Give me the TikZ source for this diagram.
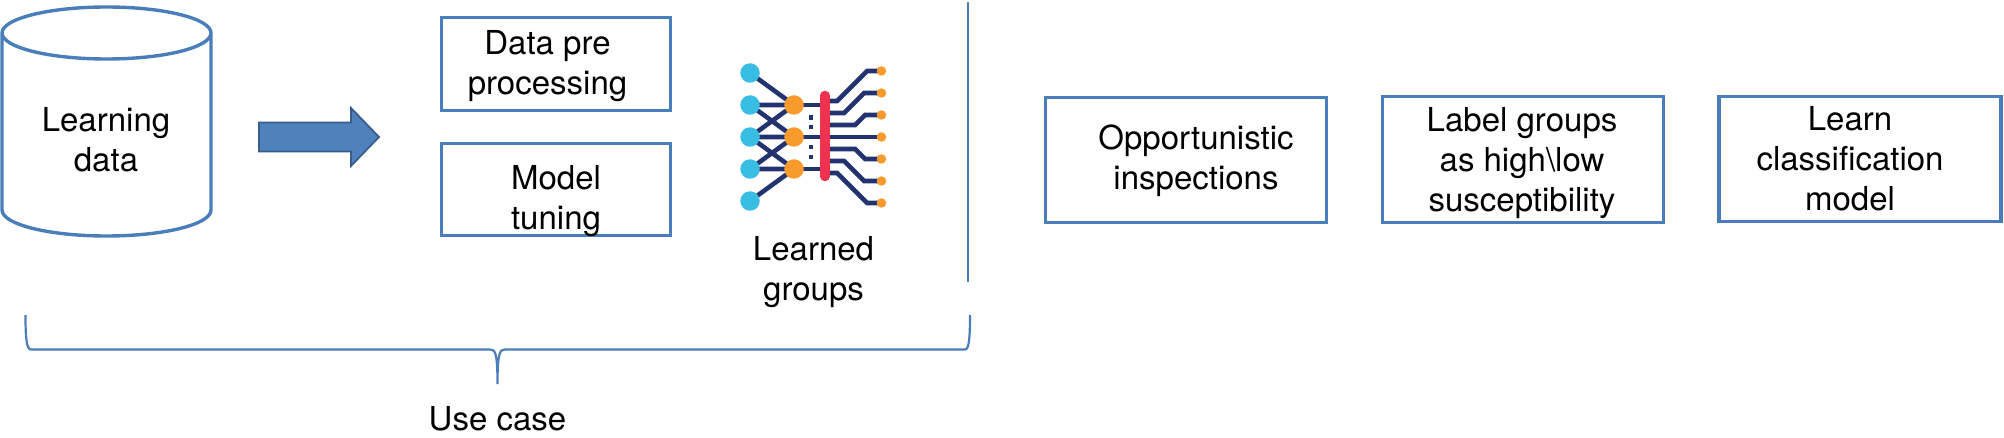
\documentclass[tikz,border=0pt]{standalone}
\usepackage{fontspec}
\setmainfont{TeX Gyre Heros}
\definecolor{bl}{HTML}{4A7EBB}
\definecolor{fillb}{HTML}{4F81BD}
\definecolor{dkb}{HTML}{385D8A}
\definecolor{navy}{HTML}{22336F}
\definecolor{cy}{HTML}{38BDE3}
\definecolor{org}{HTML}{F99B2C}
\definecolor{rd}{HTML}{EE3350}
\tikzset{
  box/.style={draw=bl,line width=3.6pt,inner sep=0pt},
  txt/.style={align=center,inner sep=0pt,anchor=base,font=\fontsize{33}{40}\selectfont},
  wire/.style={draw=navy,line width=4.6pt},
  cyn/.style={circle,fill=cy,minimum size=19.5pt,inner sep=0pt},
  orn/.style={circle,fill=org,minimum size=19.5pt,inner sep=0pt},
  ton/.style={circle,fill=org,minimum size=9.5pt,inner sep=0pt},
  dotq/.style={fill=navy,minimum size=4.7pt,inner sep=0pt},
}
\begin{document}
\begin{tikzpicture}[x=1pt,y=-1pt]
\useasboundingbox (0,0) rectangle (2004,438);
% cylinder
\draw[bl,line width=3.4pt] (2,33) arc[start angle=180,end angle=0,x radius=104.5,y radius=26] arc[start angle=0,end angle=-180,x radius=104.5,y radius=26] -- (2,210) arc[start angle=180,end angle=0,x radius=104.5,y radius=26] -- (211,33);
\node[txt] (ld) at (106,172) {Learning\\data};
% arrow
\draw[fill=fillb,draw=dkb,line width=1.8pt] (259,122.5) -- (351,122.5) -- (351,108) -- (379,137) -- (351,166) -- (351,151.5) -- (259,151.5) -- cycle;
% boxes
\node[box,minimum width=229pt,minimum height=93pt] (dp) at (556,64) {};
\node[box,minimum width=229pt,minimum height=92pt] (mt) at (556,189.5) {};
\node[box,minimum width=281pt,minimum height=125pt] (op) at (1186,160) {};
\node[box,minimum width=281pt,minimum height=126pt] (lg) at (1523,159.5) {};
\node[box,minimum width=282pt,minimum height=125pt] (lc) at (1860,159) {};
\node[txt] (dpt) at (547.5,95) {Data pre\\processing};
\node[txt] (mtt) at (556,229.5) {Model\\tuning};
\node[txt] (opt) at (1196,190) {Opportunistic\\inspections};
\node[txt] (lgt) at (1522,212) {Label groups\\as high\textbackslash low\\susceptibility};
\node[txt] (lct) at (1850,211) {Learn\\classification\\model};
% separator
\coordinate (s1) at (968,2); \coordinate (s2) at (968,282);
\draw[bl,line width=2.2pt] (s1) -- (s2);
% brace
\coordinate (bl1) at (25.5,315);\coordinate (br1) at (970,315);\coordinate (b) at (497.5,384);
\draw[bl,line width=2.2pt] (bl1) .. controls (25.5,338) and (26.5,349.5) .. (31,349.5) -- (490,349.5) .. controls (495,349.5) and (497.5,352) .. (b) .. controls (497.5,352) and (500,349.5) .. (505,349.5) -- (965,349.5) .. controls (969,349.5) and (970,338) .. (br1);
\node[txt] (uc) at (497.5,430) {Use case};
% network
\coordinate (A1) at (750,73);\coordinate (A2) at (750,105);\coordinate (A3) at (750,137);\coordinate (A4) at (750,169);\coordinate (A5) at (750,201);
\coordinate (B1) at (794,105);\coordinate (B2) at (794,137);\coordinate (B3) at (794,169);
\draw[wire] (A1)--(B1) (A2)--(B1) (A2)--(B2) (A3)--(B1) (A3)--(B2) (A3)--(B3) (A4)--(B2) (A4)--(B3) (A5)--(B3);
\draw[wire] (B1)--(825,105) (B2)--(825,137) (B3)--(825,169);
\coordinate (t1) at (881.5,71);\coordinate (t2) at (881.5,93);\coordinate (t3) at (881.5,115);\coordinate (t4) at (881.5,137);\coordinate (t5) at (881.5,159);\coordinate (t6) at (881.5,181);\coordinate (t7) at (881.5,203);
\draw[wire] (825,101)--(837,101)--(867,71)--(t1);
\draw[wire] (825,113)--(844,113)--(864,93)--(t2);
\draw[wire] (825,125)--(855,125)--(865,115)--(t3);
\draw[wire] (825,137)--(t4);
\draw[wire] (825,149)--(855,149)--(865,159)--(t5);
\draw[wire] (825,161)--(844,161)--(864,181)--(t6);
\draw[wire] (825,173)--(837,173)--(867,203)--(t7);
\foreach \n/\y in {a/117.5,b/127,c/147,d/157}{\node[dotq] (q\n) at (811,\y) {};}
\draw[rd,line width=9.5pt,line cap=round] (825,95.5) -- (825,176.5);
\foreach \c in {A1,A2,A3,A4,A5}{\node[cyn] at (\c) {};}
\foreach \c in {B1,B2,B3}{\node[orn] at (\c) {};}
\foreach \c in {t1,t2,t3,t4,t5,t6,t7}{\node[ton] at (\c) {};}
\node[txt] (lgd) at (813.5,301) {Learned\\groups};
\end{tikzpicture}
\end{document}
